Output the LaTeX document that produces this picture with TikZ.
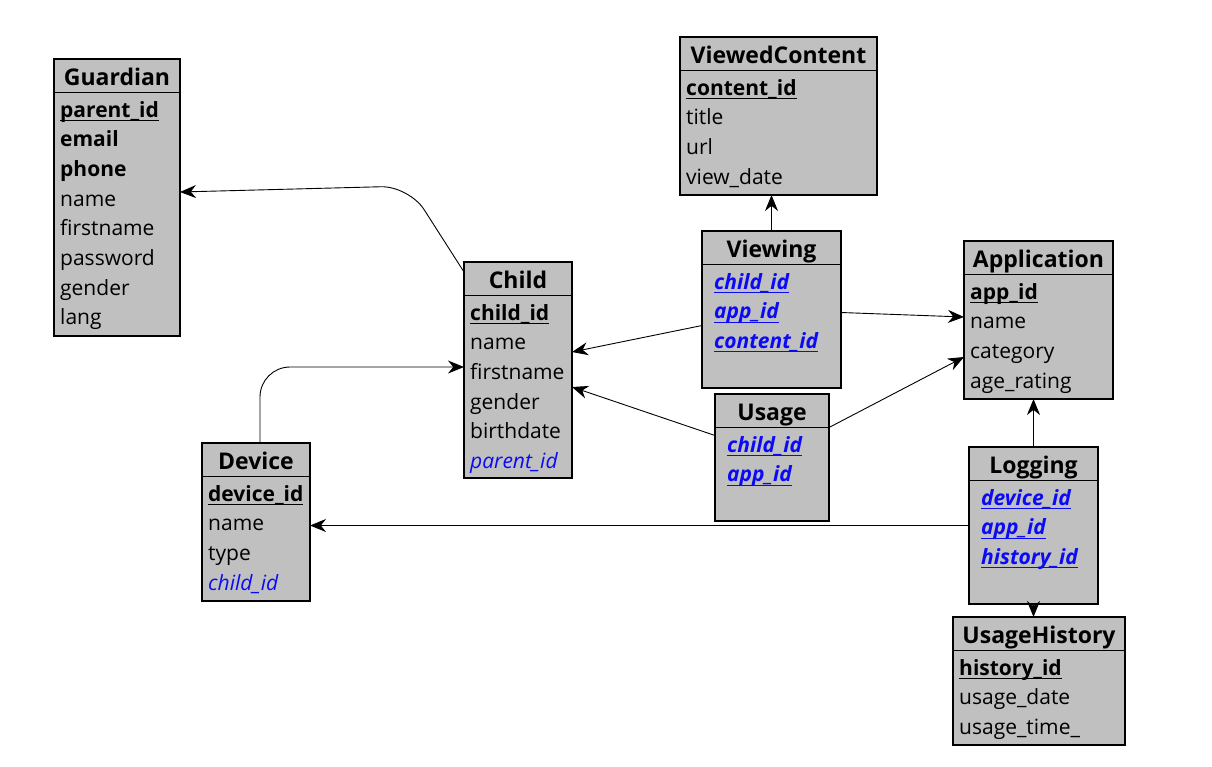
\documentclass[tikz,border=0pt]{standalone}
\usepackage{fontspec}
\setmainfont{Open Sans}
\usepackage{tikz}
\usetikzlibrary{arrows.meta,calc,positioning}
\definecolor{boxgray}{RGB}{192,192,192}
\definecolor{keyblue}{RGB}{10,10,245}
\newcommand{\keyline}[1]{\setbox0\hbox{#1}\rlap{\rule[-4pt]{\wd0}{1.2pt}}\box0}
\newcommand{\pk}[1]{\keyline{\textbf{#1}}}
\newcommand{\fk}[1]{\textcolor{keyblue}{\itshape #1}}
\newcommand{\pfk}[1]{\textcolor{keyblue}{\keyline{\bfseries\itshape #1}}}

\begin{document}
\fontsize{21}{25}\selectfont
\begin{tikzpicture}[x=1pt,y=-1pt,
    tbl/.style={draw,line width=1.3pt,fill=boxgray,anchor=north west,inner sep=0pt,outer sep=0pt},
    ttl/.style={anchor=base,font=\fontsize{23}{27}\selectfont\bfseries,inner sep=0pt},
    field/.style={anchor=base west,inner sep=0pt},
    sepline/.style={line width=1.2pt},
    link/.style={-{Stealth[length=16pt,width=13pt]},line width=0.9pt}]
%
  \useasboundingbox (0,0) rectangle (1212,766);
%
  \node[tbl,minimum width=126pt,minimum height=277pt] (guardian) at (54,59) {};
  \node[ttl] (guardian-t) at ([yshift=-26pt]guardian.north) {Guardian};
  \draw[sepline] ([yshift=-33.5pt]guardian.north west) -- ([yshift=-33.5pt]guardian.north east);
  \foreach \f [count=\i from 0] in {\pk{parent\_id},\textbf{email},\textbf{phone},name,firstname,password,gender,lang}
    \node[field] (guardian-\i) at ([xshift=6pt,yshift={-58pt-29.7pt*\i}]guardian.north west) {\f};
%
  \node[tbl,minimum width=197pt,minimum height=158pt] (viewedcontent) at (680,37) {};
  \node[ttl] (viewedcontent-t) at ([yshift=-26pt]viewedcontent.north) {ViewedContent};
  \draw[sepline] ([yshift=-33.5pt]viewedcontent.north west) -- ([yshift=-33.5pt]viewedcontent.north east);
  \foreach \f [count=\i from 0] in {\pk{content\_id},title,url,view\_date}
    \node[field] (viewedcontent-\i) at ([xshift=6pt,yshift={-58pt-29.7pt*\i}]viewedcontent.north west) {\f};
%
  \node[tbl,minimum width=139pt,minimum height=157pt] (viewing) at (702,231) {};
  \node[ttl] (viewing-t) at ([yshift=-26pt]viewing.north) {Viewing};
  \draw[sepline] ([yshift=-33.5pt]viewing.north west) -- ([yshift=-33.5pt]viewing.north east);
  \foreach \f [count=\i from 0] in {\pfk{child\_id},\pfk{app\_id},\pfk{content\_id}}
    \node[field] (viewing-\i) at ([xshift=12pt,yshift={-58pt-29.7pt*\i}]viewing.north west) {\f};
%
  \node[tbl,minimum width=149pt,minimum height=158pt] (application) at (964,241) {};
  \node[ttl] (application-t) at ([yshift=-26pt]application.north) {Application};
  \draw[sepline] ([yshift=-33.5pt]application.north west) -- ([yshift=-33.5pt]application.north east);
  \foreach \f [count=\i from 0] in {\pk{app\_id},name,category,age\_rating}
    \node[field] (application-\i) at ([xshift=6pt,yshift={-58pt-29.7pt*\i}]application.north west) {\f};
%
  \node[tbl,minimum width=108pt,minimum height=216pt] (child) at (464,262) {};
  \node[ttl] (child-t) at ([yshift=-26pt]child.north) {Child};
  \draw[sepline] ([yshift=-33.5pt]child.north west) -- ([yshift=-33.5pt]child.north east);
  \foreach \f [count=\i from 0] in {\pk{child\_id},name,firstname,gender,birthdate,\fk{parent\_id}}
    \node[field] (child-\i) at ([xshift=6pt,yshift={-58pt-29.7pt*\i}]child.north west) {\f};
%
  \node[tbl,minimum width=114pt,minimum height=127pt] (usage) at (715,394) {};
  \node[ttl] (usage-t) at ([yshift=-26pt]usage.north) {Usage};
  \draw[sepline] ([yshift=-33.5pt]usage.north west) -- ([yshift=-33.5pt]usage.north east);
  \foreach \f [count=\i from 0] in {\pfk{child\_id},\pfk{app\_id}}
    \node[field] (usage-\i) at ([xshift=12pt,yshift={-58pt-29.7pt*\i}]usage.north west) {\f};
%
  \node[tbl,minimum width=108pt,minimum height=158pt] (device) at (202,443) {};
  \node[ttl] (device-t) at ([yshift=-26pt]device.north) {Device};
  \draw[sepline] ([yshift=-33.5pt]device.north west) -- ([yshift=-33.5pt]device.north east);
  \foreach \f [count=\i from 0] in {\pk{device\_id},name,type,\fk{child\_id}}
    \node[field] (device-\i) at ([xshift=6pt,yshift={-58pt-29.7pt*\i}]device.north west) {\f};
%
  \node[tbl,minimum width=129pt,minimum height=157pt] (logging) at (969,447) {};
  \node[ttl] (logging-t) at ([yshift=-26pt]logging.north) {Logging};
  \draw[sepline] ([yshift=-33.5pt]logging.north west) -- ([yshift=-33.5pt]logging.north east);
  \foreach \f [count=\i from 0] in {\pfk{device\_id},\pfk{app\_id},\pfk{history\_id}}
    \node[field] (logging-\i) at ([xshift=12pt,yshift={-58pt-29.7pt*\i}]logging.north west) {\f};
%
  \node[tbl,minimum width=172pt,minimum height=128pt] (usagehistory) at (953,617) {};
  \node[ttl] (usagehistory-t) at ([yshift=-26pt]usagehistory.north) {UsageHistory};
  \draw[sepline] ([yshift=-33.5pt]usagehistory.north west) -- ([yshift=-33.5pt]usagehistory.north east);
  \foreach \f [count=\i from 0] in {\pk{history\_id},usage\_date,usage\_time\_}
    \node[field] (usagehistory-\i) at ([xshift=6pt,yshift={-58pt-29.7pt*\i}]usagehistory.north west) {\f};
%
  \coordinate (bend) at (409,186);
  \draw[link,rounded corners=28pt] ([yshift=-10pt]child.north west) -- (bend) -- ([yshift=5.5pt]guardian.east);
  \draw[link,rounded corners=30pt] ([xshift=4pt]device.north) |- ([yshift=3pt]child.west);
  \draw[link] ([yshift=-16pt]viewing.west) -- ([yshift=18pt]child.east);
  \draw[link] ([yshift=22pt]usage.west) -- ([yshift=-17pt]child.east);
  \draw[link] ([yshift=-3pt]viewing.east) -- ([yshift=3pt]application.west);
  \draw[link] ([yshift=30pt]usage.east) -- ([yshift=-37pt]application.west);
  \draw[link] (viewing.north) -- (viewing.north |- viewedcontent.south);
  \draw[link] (logging.north) -- (logging.north |- application.south);
  \draw[link] (logging.west) -- (device.east |- logging.west);
  \draw[link] (logging.south) -- (logging.south |- usagehistory.north);

\end{tikzpicture}
\end{document}
